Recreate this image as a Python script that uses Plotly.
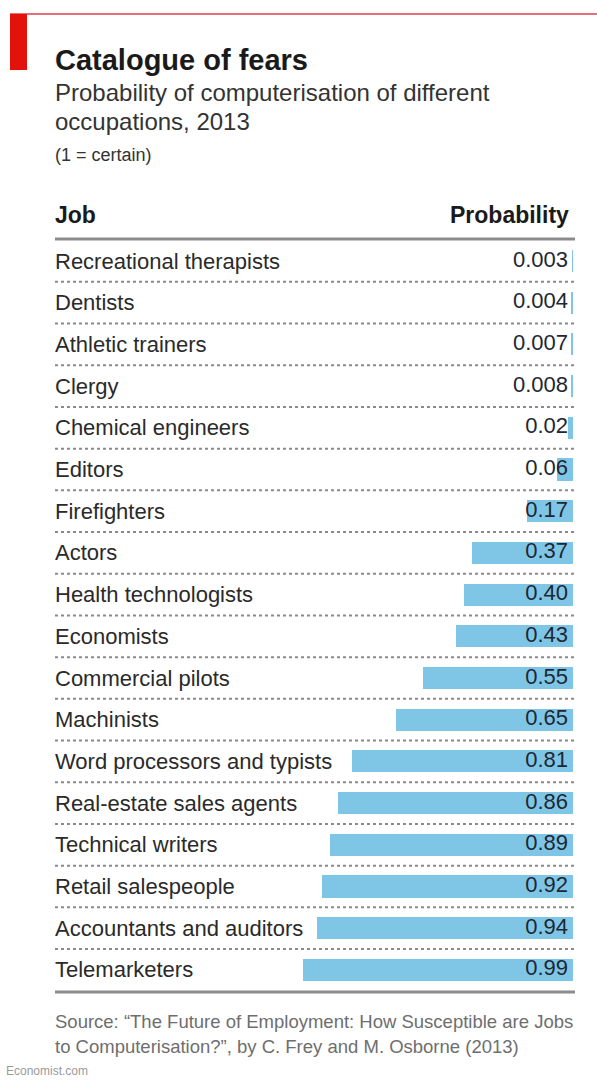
import plotly.graph_objects as go

jobs = ["Recreational therapists", "Dentists", "Athletic trainers", "Clergy",
        "Chemical engineers", "Editors", "Firefighters", "Actors",
        "Health technologists", "Economists", "Commercial pilots", "Machinists",
        "Word processors and typists", "Real-estate sales agents",
        "Technical writers", "Retail salespeople", "Accountants and auditors",
        "Telemarketers"]
probability = [0.003, 0.004, 0.007, 0.008, 0.02, 0.06, 0.17, 0.37, 0.40, 0.43,
               0.55, 0.65, 0.81, 0.86, 0.89, 0.92, 0.94, 0.99]
value_labels = ["0.003", "0.004", "0.007", "0.008", "0.02", "0.06", "0.17", "0.37",
                "0.40", "0.43", "0.55", "0.65", "0.81", "0.86", "0.89", "0.92",
                "0.94", "0.99"]

W, H = 597, 1089
FONT = "Liberation Sans, Arial, sans-serif"
BAR = "#7fc6e6"
TXT = "#2a2a2a"

# pixel geometry helpers
zero_px, unit_px = 573, 272.7
row0_px, row_px = 261, 41.7
x_range = [zero_px / unit_px, (zero_px - W) / unit_px]
y_range = [(H - row0_px) / row_px, -row0_px / row_px]


def px(x):
    return x / W


def py(y):
    return 1 - y / H


fig = go.Figure()
fig.add_trace(go.Bar(
    y=jobs, x=probability, orientation="h", width=0.53,
    marker=dict(color=BAR, line=dict(width=0)),
    hoverinfo="skip", showlegend=False,
))
fig.add_trace(go.Scatter(
    y=jobs, x=[0.018] * len(jobs), mode="text", text=value_labels,
    textposition="middle left",
    textfont=dict(family=FONT, size=22, color="#1d2833"),
    hoverinfo="skip", showlegend=False,
))

annotations = []
for j in jobs:
    annotations.append(dict(x=px(53), xref="paper", y=j, yref="y", text=j,
                            showarrow=False, xanchor="left", yanchor="middle",
                            font=dict(family=FONT, size=22, color=TXT)))

shapes = []
# dotted separators
for i in range(len(jobs) - 1):
    shapes.append(dict(type="line", xref="paper", yref="y",
                       x0=px(55), x1=px(575), y0=i + 0.5, y1=i + 0.5,
                       line=dict(color="#8a8a8a", width=2, dash="dot")))
# heavy rules
for yy in [239, 992]:
    shapes.append(dict(type="line", xref="paper", yref="paper",
                       x0=px(55), x1=px(575), y0=py(yy), y1=py(yy),
                       line=dict(color="#8c8c8c", width=3)))
# red top line and block
shapes.append(dict(type="line", xref="paper", yref="paper", x0=px(10), x1=1,
                   y0=py(14), y1=py(14), line=dict(color="#d9404a", width=1.5)))
shapes.append(dict(type="rect", xref="paper", yref="paper", x0=px(10), x1=px(27),
                   y0=py(70), y1=py(14), fillcolor="#e3120b", line=dict(width=0)))


def text(x, y, s, size, color=TXT, bold=False, anchor="left"):
    if bold:
        s = "<b>" + s + "</b>"
    annotations.append(dict(x=px(x), y=py(y), xref="paper", yref="paper", text=s,
                            showarrow=False, xanchor=anchor, yanchor="middle",
                            align=anchor,
                            font=dict(family=FONT, size=size, color=color)))


text(53, 60, "Catalogue of fears", 29, color="#1a1a1a", bold=True)
text(53, 92.5, "Probability of computerisation of different", 24, color="#333333")
text(53, 121.5, "occupations, 2013", 24, color="#333333")
text(53, 155, "(1 = certain)", 18, color="#333333")
text(53, 215, "Job", 23, color="#1a1a1a", bold=True)
text(571, 215, "Probability", 23, color="#1a1a1a", bold=True, anchor="right")
text(53, 1021.5, "Source: “The Future of Employment: How Susceptible are Jobs", 18.5, color="#6e6e6e")
text(53, 1046.5, "to Computerisation?”, by C. Frey and M. Osborne (2013)", 18.5, color="#6e6e6e")
text(4, 1071, "Economist.com", 12, color="#9a9a9a")

fig.update_layout(
    width=W, height=H, margin=dict(l=0, r=0, t=0, b=0),
    paper_bgcolor="white", plot_bgcolor="white",
    xaxis=dict(range=x_range, visible=False, fixedrange=True),
    yaxis=dict(range=y_range, visible=False, type="category",
               categoryorder="array", categoryarray=jobs, fixedrange=True),
    annotations=annotations, shapes=shapes, bargap=0,
)
fig.write_html("out.html", config={"displayModeBar": False},
               post_script="document.body.style.margin='0';document.body.style.overflow='hidden';")
